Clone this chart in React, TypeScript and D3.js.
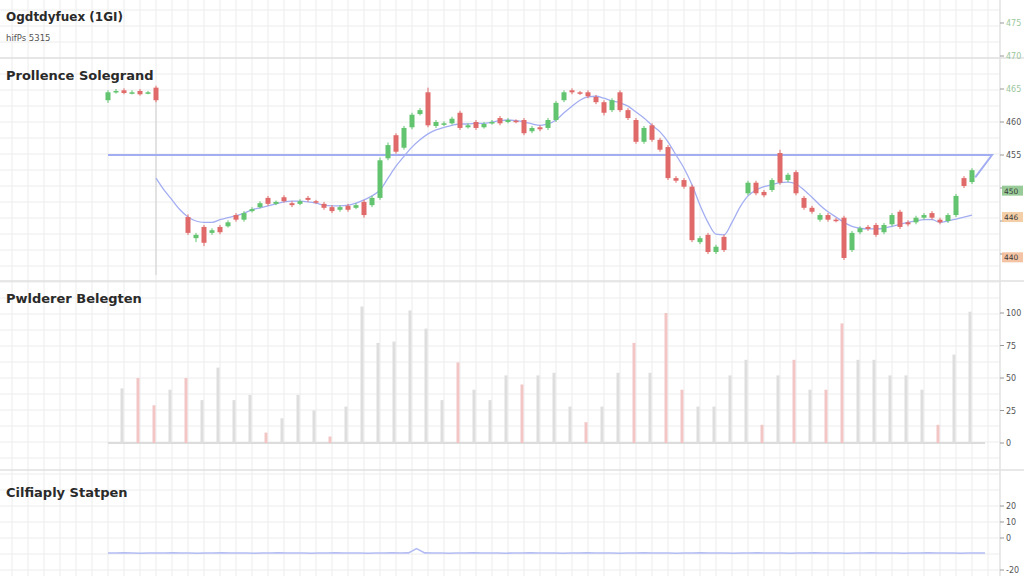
import React from "react";
import * as d3 from "d3";

const W = 1024;
const H = 576;

const titleText = "Ogdtdyfuex (1GI)";
const subtitleText = "hifPs 5315";
const panelTitles = ["Prollence Solegrand", "Pwlderer Belegten", "Cilfiaply Statpen"];

const opens: (number | null)[] = [
  463.3, 464.5, 464.8, 464.4, 464.7, 464.4, 465.2, null, null, null,
  445.6, 442.4, 444.1, 443.2, 444.1, 444.2, 445.9, 445.2, 446.5, 447.1,
  448.5, 447.6, 448.6, 447.7, 447.6, 448.5, 448.0, 447.6, 447.1, 446.7,
  447.3, 447.0, 447.9, 447.4, 448.5, 454.5, 458.0, 456.1, 459.2, 461.2,
  464.5, 459.4, 459.7, 459.8, 461.4, 459.2, 460.0, 459.2, 459.8, 460.6,
  460.0, 460.2, 460.3, 458.6, 459.2, 459.1, 460.3, 463.3, 464.8, 464.5,
  464.5, 463.8, 463.0, 461.8, 464.5, 461.8, 460.3, 457.0, 459.5, 457.3,
  456.2, 451.5, 451.2, 450.2, 441.8, 442.9, 440.3, 442.6, null, null,
  449.2, 450.8, 449.4, 449.7, 455.3, 451.2, 452.4, 448.5, 447.0, 445.2,
  445.9, 445.2, 445.5, 440.6, 443.3, 444.1, 444.4, 443.3, 444.5, 446.4,
  444.8, 444.8, 445.5, 446.2, 445.2, 445.0, 445.9, 451.5, 450.9,
];
const closes: (number | null)[] = [
  464.5, 464.7, 464.4, 464.5, 464.2, 464.5, 463.3, null, null, null,
  443.2, 442.9, 441.7, 443.6, 443.3, 444.8, 445.2, 446.2, 446.8, 447.7,
  447.6, 447.9, 448.0, 447.4, 448.0, 448.2, 447.9, 447.0, 446.5, 447.1,
  446.7, 447.4, 445.9, 448.5, 454.2, 456.5, 455.5, 459.1, 461.1, 461.8,
  459.5, 460.0, 459.8, 460.5, 459.1, 459.5, 459.1, 459.7, 460.0, 459.8,
  460.3, 460.0, 458.3, 459.1, 458.9, 460.3, 462.9, 464.5, 464.5, 464.4,
  463.9, 463.0, 461.4, 463.3, 461.8, 460.6, 457.0, 459.1, 457.3, 455.8,
  451.5, 451.1, 450.2, 442.1, 442.4, 440.3, 441.1, 440.6, null, null,
  450.8, 449.2, 448.9, 451.2, 450.8, 452.0, 449.2, 447.0, 446.4, 445.9,
  445.2, 445.0, 439.4, 443.2, 443.9, 443.8, 442.9, 444.4, 445.9, 444.1,
  444.5, 445.5, 445.9, 445.5, 444.8, 445.9, 448.8, 450.3, 452.7,
];
const highs: (number | null)[] = [
  464.8, 465.0, 465.1, 464.8, 465.0, 464.7, 465.5, null, null, null,
  446.0, 443.2, 444.4, 443.9, 444.4, 445.1, 446.2, 446.5, 447.1, 448.0,
  448.8, 448.1, 448.9, 448.0, 448.3, 448.8, 448.2, 447.9, 447.4, 447.4,
  447.6, 447.7, 448.2, 448.8, 454.6, 456.9, 458.3, 459.4, 461.4, 462.1,
  465.2, 460.3, 460.1, 460.8, 461.7, 459.8, 460.3, 460.0, 460.3, 460.9,
  460.6, 460.4, 460.6, 459.4, 459.5, 460.6, 463.2, 464.8, 465.1, 464.7,
  464.8, 464.1, 463.3, 463.6, 464.8, 462.1, 460.6, 459.4, 459.8, 457.6,
  456.5, 451.8, 451.5, 450.5, 442.7, 443.2, 441.4, 442.9, null, null,
  451.1, 451.1, 449.7, 451.5, 455.8, 452.3, 452.7, 448.8, 447.3, 446.2,
  446.2, 445.5, 445.8, 443.5, 444.2, 444.4, 444.7, 444.7, 446.2, 446.7,
  445.1, 445.8, 446.2, 446.5, 445.5, 446.2, 449.1, 451.8, 453.0,
];
const lows: (number | null)[] = [
  462.9, 464.3, 464.2, 464.2, 464.0, 464.2, 463.0, null, null, null,
  442.9, 441.8, 441.2, 442.9, 443.0, 444.0, 444.9, 444.9, 446.3, 446.9,
  447.3, 447.4, 447.8, 447.1, 447.4, 447.9, 447.6, 446.7, 446.2, 446.4,
  446.4, 446.8, 445.5, 447.1, 448.2, 454.2, 455.2, 455.8, 458.9, 461.0,
  459.2, 459.1, 459.4, 459.6, 458.8, 459.0, 458.8, 459.0, 459.6, 459.5,
  459.8, 459.8, 458.0, 458.3, 458.6, 458.8, 460.0, 463.0, 464.2, 464.1,
  463.6, 462.7, 461.0, 461.5, 461.5, 460.3, 456.7, 456.7, 457.0, 455.5,
  451.2, 450.8, 449.9, 441.8, 441.5, 440.0, 440.0, 440.3, null, null,
  448.9, 448.9, 448.6, 449.4, 450.5, 450.9, 448.9, 446.7, 446.1, 444.9,
  444.9, 444.8, 439.1, 440.3, 443.0, 443.5, 442.6, 443.0, 444.2, 443.8,
  444.2, 444.5, 445.2, 445.2, 444.5, 444.7, 445.6, 450.0, 450.6,
];
const movingAvg: (number | null)[] = [
  null, null, null, null, null, null, 451.5, 449.7, 448.2, 446.7,
  445.6, 445.0, 444.8, 444.8, 445.2, 445.5, 445.8, 446.2, 446.7, 447.0,
  447.3, 447.6, 447.9, 448.0, 448.0, 447.9, 447.7, 447.4, 447.3, 447.3,
  447.4, 447.7, 448.2, 448.8, 449.7, 451.5, 453.3, 454.8, 456.2, 457.3,
  458.2, 458.8, 459.2, 459.5, 459.7, 459.7, 459.8, 459.8, 460.0, 460.2,
  460.3, 460.2, 460.0, 459.7, 459.5, 459.7, 460.3, 461.4, 462.4, 463.3,
  463.8, 463.9, 463.6, 463.2, 462.9, 462.4, 461.5, 460.6, 459.5, 458.5,
  457.0, 455.0, 453.0, 450.5, 447.4, 444.8, 443.0, 442.9, 444.8, 447.1,
  448.8, 449.7, 450.2, 450.5, 450.8, 450.9, 450.6, 449.7, 448.6, 447.4,
  446.4, 445.6, 444.8, 444.2, 443.9, 443.8, 443.8, 443.9, 444.2, 444.5,
  444.8, 445.0, 445.2, 445.2, 444.8, 445.0, 445.3, 445.6, 445.9,
];

// level line (index position, price)
const levelIdx = [0, 110.5, 108.4];
const levelVals = [455, 455, 451.6];

// marker line in price panel at candle index
const markerIdx = 6;

const priceTicks = [475, 470, 465, 460, 455, 450, 445, 440];
const priceTickLabels = [475, 470, 465, 460, 455];
const priceBoxes = [449.6, 445.6, 439.5];
const priceBoxColors = ["#86c286", "#f2c596", "#f2b994"];

const volumes = [
  42, 50, 29, 41, 50, 33, 58, 33, 37, 8,
  19, 37, 25, 5, 28, 105, 77, 78, 102, 88,
  33, 62, 41, 33, 52, 45, 52, 54, 28, 16,
  28, 54, 77, 54, 100, 41, 28, 28, 52, 64,
  14, 52, 64, 41, 41, 92, 64, 64, 52, 52,
  41, 14, 68, 101,
];
const volumeDir = [
  "u", "d", "d", "u", "d", "u", "u", "u", "u", "d",
  "u", "u", "u", "d", "u", "u", "u", "u", "u", "u",
  "u", "d", "u", "u", "u", "d", "u", "u", "u", "d",
  "u", "u", "d", "u", "d", "d", "u", "u", "u", "u",
  "d", "u", "d", "u", "d", "d", "u", "u", "u", "u",
  "u", "d", "u", "u",
];
const volumeTicks = [0, 25, 50, 75, 100];

const oscValues = [
  -9.4, -9.4, -9.3, -9.4, -9.5, -9.4, -9.4, -9.4, -9.3, -9.4,
  -9.4, -9.5, -9.4, -9.4, -9.3, -9.4, -9.4, -9.4, -9.5, -9.4,
  -9.4, -9.3, -9.4, -9.4, -9.4, -9.5, -9.4, -9.4, -9.3, -9.4,
  -9.4, -9.4, -9.5, -9.4, -9.4, -9.3, -9.4, -9.3, -6.6, -9.3,
  -9.4, -9.4, -9.5, -9.4, -9.4, -9.3, -9.4, -9.4, -9.4, -9.5,
  -9.4, -9.4, -9.3, -9.4, -9.4, -9.4, -9.5, -9.4, -9.4, -9.3,
  -9.4, -9.4, -9.4, -9.5, -9.4, -9.4, -9.3, -9.4, -9.4, -9.4,
  -9.5, -9.4, -9.4, -9.3, -9.4, -9.4, -9.4, -9.5, -9.4, -9.4,
  -9.3, -9.4, -9.4, -9.4, -9.5, -9.4, -9.4, -9.3, -9.4, -9.4,
  -9.4, -9.5, -9.4, -9.4, -9.3, -9.4, -9.4, -9.4, -9.5, -9.4,
  -9.4, -9.3, -9.4, -9.4, -9.4, -9.5, -9.4, -9.4, -9.4,
];
const oscTicks = [20, 10, 0, -20];

const UP = "#62c46e";
const DOWN = "#e06a6a";
const BLUE = "#a3aef2";
const FONT = "'DejaVu Sans', 'Open Sans', sans-serif";

export default function App() {
  const n = closes.length;
  const x = d3.scaleLinear().domain([0, n - 1]).range([108, 972]);
  const xOsc = d3.scaleLinear().domain([0, n - 1]).range([108, 985]);
  const yP = d3.scaleLinear().domain([440, 475]).range([254, 23]);
  const xV = d3.scaleLinear().domain([0, volumes.length - 1]).range([122, 970]);
  const yV = d3.scaleLinear().domain([0, 100]).range([443, 313]);
  const yO = d3.scaleLinear().domain([-20, 20]).range([570, 506]);

  const axisX = 1000;
  const gridV = d3.range(12, axisX, 16);
  const gridH = d3.range(10, H, 16);

  const maLine = d3
    .line<number | null>()
    .defined((d) => d != null)
    .x((_, i) => x(i))
    .y((d) => yP(d as number))
    .curve(d3.curveMonotoneX)(movingAvg) as string;

  const levelPath = d3
    .line<number>()
    .x((d) => x(d))
    .y((_, i) => yP(levelVals[i]))(levelIdx) as string;

  const oscPath = d3
    .line<number>()
    .x((_, i) => xOsc(i))
    .y((d) => yO(d))(oscValues) as string;

  return (
    <svg
      width={W}
      height={H}
      style={{ position: "absolute", left: 0, top: 0, background: "#fff" }}
      fontFamily={FONT}
    >
      <rect x={0} y={0} width={W} height={H} fill="#fff" />
      {/* grid */}
      {gridV.map((gx) => (
        <line key={"gv" + gx} x1={gx} x2={gx} y1={0} y2={H} stroke="#ececec" strokeWidth={1} />
      ))}
      {gridH.map((gy) => (
        <line key={"gh" + gy} x1={0} x2={axisX} y1={gy} y2={gy} stroke="#ececec" strokeWidth={1} />
      ))}
      {/* separators */}
      {[58, 281, 470].map((sy) => (
        <line key={"s" + sy} x1={0} x2={W} y1={sy} y2={sy} stroke="#e0e0e0" strokeWidth={1.5} />
      ))}
      <line x1={axisX} x2={axisX} y1={0} y2={H} stroke="#e2e2e2" strokeWidth={1.5} />

      {/* header */}
      <text x={6} y={21} fontSize={12} fill="#2a2a2a" fontWeight={700}>{titleText}</text>
      <text x={6} y={41} fontSize={8.5} fill="#555">{subtitleText}</text>
      <text x={6} y={80} fontSize={13} fill="#2a2a2a" fontWeight={700}>{panelTitles[0]}</text>
      <text x={6} y={303} fontSize={13} fill="#2a2a2a" fontWeight={700}>{panelTitles[1]}</text>
      <text x={6} y={497} fontSize={13} fill="#2a2a2a" fontWeight={700}>{panelTitles[2]}</text>

      {/* marker line */}
      <line x1={x(markerIdx)} x2={x(markerIdx)} y1={yP(463.3)} y2={275} stroke="#d6d6d6" strokeWidth={1.2} />

      {/* level line */}
      <path d={levelPath} fill="none" stroke={BLUE} strokeWidth={2} />
      {/* moving average */}
      <path d={maLine} fill="none" stroke={BLUE} strokeWidth={1.3} />

      {/* candles */}
      {closes.map((c, i) => {
        const o = opens[i];
        const h = highs[i];
        const l = lows[i];
        if (c == null || o == null || h == null || l == null) return null;
        const up = c >= o;
        const col = up ? UP : DOWN;
        const top = yP(Math.max(o, c));
        const bot = yP(Math.min(o, c));
        const cx = x(i);
        return (
          <g key={"c" + i}>
            <line x1={cx} x2={cx} y1={yP(h)} y2={yP(l)} stroke={col} strokeWidth={1} />
            <rect x={cx - 2.5} y={top} width={5} height={Math.max(1.5, bot - top)} fill={col} />
          </g>
        );
      })}

      {/* price axis */}
      {priceTicks.map((t) => (
        <line key={"ptm" + t} x1={axisX} x2={axisX + 4} y1={yP(t)} y2={yP(t)} stroke="#999" />
      ))}
      {priceTickLabels.map((t, i) => (
        <text key={"pt" + t} x={axisX + 6} y={yP(t) + 3} fontSize={8} fill={i < 3 ? "#9cc79c" : "#555"}>
          {t}
        </text>
      ))}
      {priceBoxes.map((v, i) => (
        <g key={"pb" + i}>
          <rect x={axisX + 2} y={yP(v) - 5} width={21} height={10} fill={priceBoxColors[i]} opacity={0.85} />
          <text x={axisX + 4} y={yP(v) + 3} fontSize={7.5} fill="#3a3a3a">
            {v.toFixed(0)}
          </text>
        </g>
      ))}

      {/* volume */}
      <line x1={108} x2={985} y1={yV(0)} y2={yV(0)} stroke="#dcdcdc" strokeWidth={2} />
      {volumes.map((v, i) => (
        <rect
          key={"v" + i}
          x={xV(i) - 1.5}
          y={yV(v)}
          width={3}
          height={yV(0) - yV(v)}
          fill={volumeDir[i] === "d" ? "#f3c6c6" : "#dedede"}
        />
      ))}
      {volumeTicks.map((t) => (
        <g key={"vt" + t}>
          <line x1={axisX} x2={axisX + 4} y1={yV(t)} y2={yV(t)} stroke="#999" />
          <text x={axisX + 6} y={yV(t) + 3} fontSize={8} fill="#555">{t}</text>
        </g>
      ))}

      {/* oscillator */}
      <path d={oscPath} fill="none" stroke="#b3bcf3" strokeWidth={1.6} />
      {oscTicks.map((t) => (
        <g key={"ot" + t}>
          <line x1={axisX} x2={axisX + 4} y1={yO(t)} y2={yO(t)} stroke="#999" />
          <text x={axisX + 6} y={yO(t) + 3} fontSize={8} fill="#555">{t}</text>
        </g>
      ))}
    </svg>
  );
}
